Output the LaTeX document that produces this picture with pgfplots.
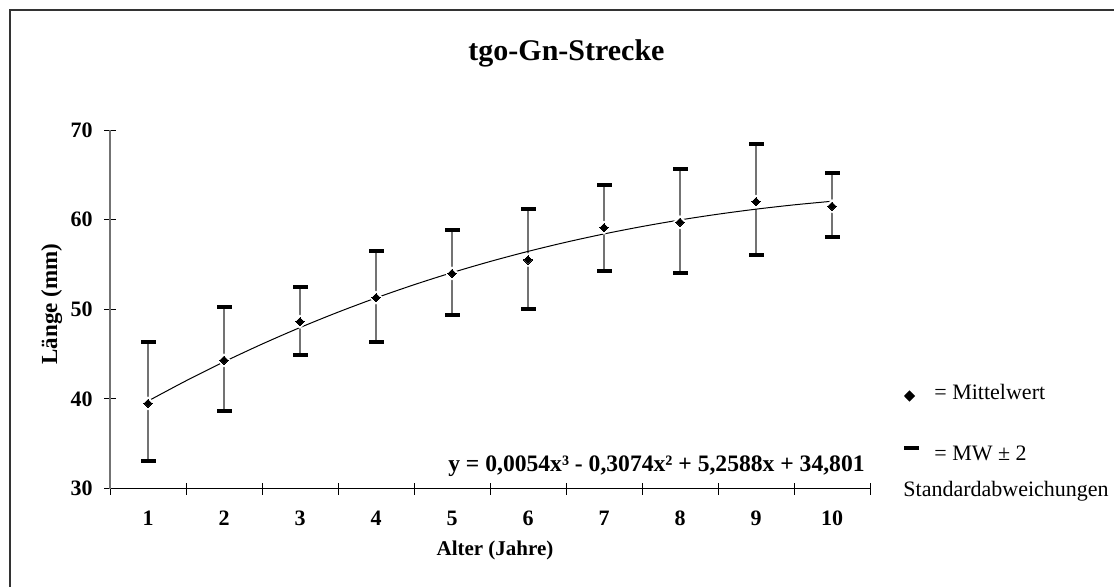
\documentclass[border=0pt]{standalone}
\usepackage{fontspec}
\setmainfont{Liberation Serif}
\usepackage{pgfplots}
\pgfplotsset{compat=1.18}
\usepackage{pgfplotstable}

% age, mean length, +/- deviation to the caps, cap positions (mean +/- 2 SD)
\pgfplotstableread{
x  mean  ep   em   hi   lo
1  39.5  6.8  6.4  46.3 33.1
2  44.3  6.0  5.6  50.3 38.7
3  48.6  3.9  3.7  52.5 44.9
4  51.3  5.2  5.0  56.5 46.3
5  54.0  4.8  4.6  58.8 49.4
6  55.5  5.7  5.5  61.2 50.0
7  59.1  4.8  4.8  63.9 54.3
8  59.7  6.0  5.7  65.7 54.0
9  62.0  6.4  5.9  68.4 56.1
10 61.5  3.7  3.4  65.2 58.1
}\lengths

% cubic trend line, tabulated
\pgfplotstableread{
x    y
1    39.758
1.5  42.016
2    44.132
2.5  46.111
3    47.957
3.5  49.673
4    51.263
4.5  52.733
5    54.085
5.5  55.324
6    56.454
6.5  57.479
7    58.402
7.5  59.229
8    59.963
8.5  60.607
9    61.167
9.5  61.647
10   62.049
}\trend

\newcommand{\tickfont}{\fontsize{11}{12}\selectfont\bfseries}
\newcommand{\labfont}{\fontsize{10.5}{12}\selectfont\bfseries}

\begin{document}
\begin{tikzpicture}
% frame
\draw[black!80, line width=1pt] (4.75pt,-293.5pt) -- (4.75pt,-5pt) -- (557pt,-5pt);

% title
\node[font=\fontsize{15}{17}\selectfont\bfseries, anchor=base, inner sep=0pt]
  at (283.25pt,-30.5pt) {tgo-Gn-Strecke};

\begin{axis}[
  at={(55pt,-244.25pt)}, anchor=south west,
  scale only axis, width=380pt, height=179.25pt,
  xmin=0.5, xmax=10.5, ymin=30, ymax=70,
  axis x line*=bottom, axis y line*=left,
  x axis line style={-, black, line width=0.5pt},
  y axis line style={-, black!55, line width=1pt},
  xtick={1,...,10},
  minor xtick={0.5,1.5,...,10.5},
  ytick={30,40,...,70},
  tick align=center,
  major x tick style={draw=none},
  minor x tick style={black, line width=0.5pt},
  major y tick style={black, line width=0.5pt},
  major tick length=6pt, minor tick length=6pt,
  /pgf/number format/assume math mode=true,
  ticklabel style={font=\tickfont, inner sep=0pt},
  xticklabel style={anchor=north, yshift=-8pt},
  yticklabel style={anchor=east, xshift=-5.5pt},
  clip=false,
]
% stems of the +/- 2 SD bars
\addplot[draw=none, mark=none, forget plot,
  error bars/.cd, y dir=both, y explicit, error mark=none,
  error bar style={black!55, line width=1pt}]
  table[x=x, y=mean, y error plus=ep, y error minus=em] {\lengths};
% white outline round the means
\addplot[only marks, mark=square*, mark size=2.3pt, draw=white, fill=white,
  mark options={rotate=45, draw=white, fill=white}]
  table[x=x, y=mean] {\lengths};
% trend line
\addplot[black, line width=0.5pt, mark=none, smooth]
  table[x=x, y=y] {\trend};
% caps
\addplot[only marks, mark=-, mark size=3.75pt, mark options={line width=2pt, black}]
  table[x=x, y=hi] {\lengths};
\addplot[only marks, mark=-, mark size=3.75pt, mark options={line width=2pt, black}]
  table[x=x, y=lo] {\lengths};
% means
\addplot[only marks, mark=square*, mark size=1.45pt, draw=black, fill=black,
  mark options={rotate=45, draw=black, fill=black, line width=0pt}]
  table[x=x, y=mean] {\lengths};
\end{axis}

% axis titles
\node[font=\labfont, anchor=base] at (247.5pt,-277.5pt) {Alter (Jahre)};
\node[font=\fontsize{11.5}{13}\selectfont\bfseries, anchor=base, rotate=90, inner sep=0pt] at (28.5pt,-152pt) {Länge (mm)};

% equation of the trend line
\node[font=\fontsize{11.8}{13}\selectfont\bfseries, anchor=base east, inner sep=0pt] at (432.5pt,-236pt)
  {y = 0,0054x³ - 0,3074x² + 5,2588x + 34,801};

% key
\fill[black] (454.75pt,-195.2pt) -- (457.5pt,-198pt) -- (454.75pt,-200.8pt) -- (452pt,-198pt) -- cycle;
\node[font=\fontsize{11}{13}\selectfont, anchor=base west, inner sep=0pt] at (467pt,-200pt) {= Mittelwert};
\fill[black] (451.75pt,-223pt) rectangle (459.25pt,-225pt);
\node[font=\fontsize{11}{13}\selectfont, anchor=base west, inner sep=0pt] at (467pt,-230.5pt) {= MW ± 2};
\node[font=\fontsize{11}{13}\selectfont, anchor=base west, inner sep=0pt] at (451.5pt,-248pt) {Standardabweichungen};

\pgfresetboundingbox
\path[use as bounding box] (0,0) rectangle (557pt,-293.5pt);
\end{tikzpicture}
\end{document}
